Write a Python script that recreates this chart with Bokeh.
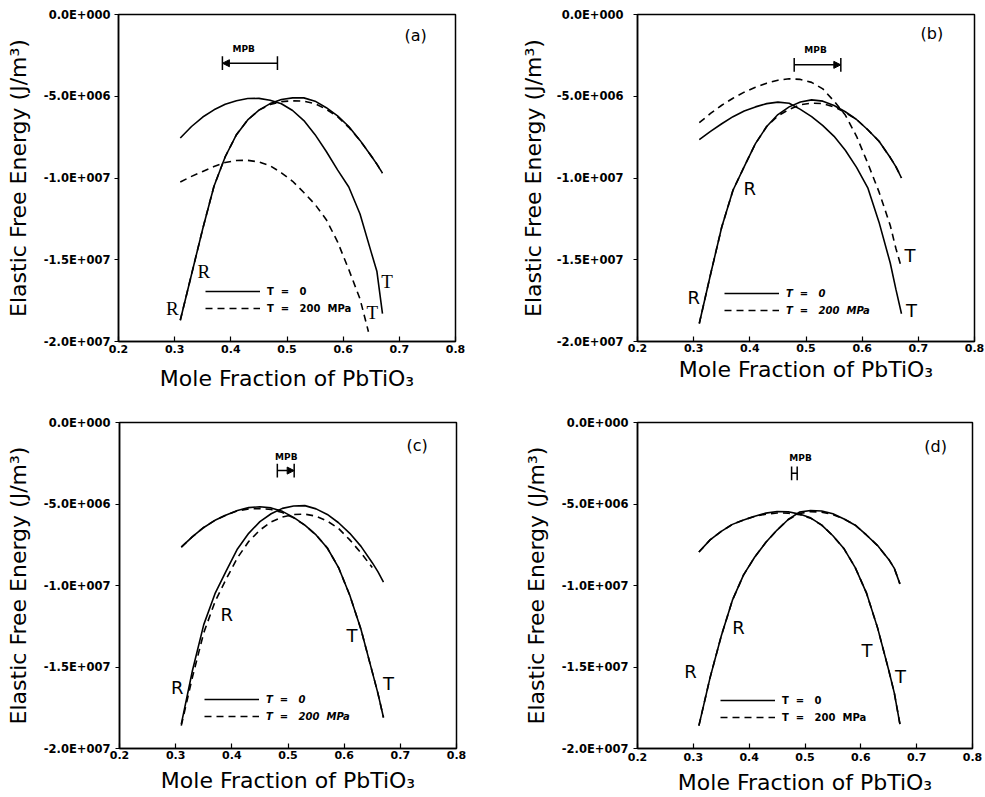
import numpy as np
from bokeh.plotting import figure
from bokeh.layouts import column, row
from bokeh.models import (Range1d, FixedTicker, CustomJSTickFormatter, Legend, LegendItem,
                          Arrow, NormalHead, ColumnDataSource, Label)
from bokeh.core.properties import value
from bokeh.embed import file_html
from bokeh.resources import INLINE

# ---------------- data (elastic free energy in units of 1e6 J/m^3) ----------------
x_grid = [0.31, 0.33, 0.35, 0.37, 0.39, 0.41, 0.43, 0.45, 0.47, 0.49,
          0.51, 0.53, 0.55, 0.57, 0.59, 0.61, 0.63, 0.65, 0.66, 0.67]

# panel (a)
a_T0_Tphase = [-7.55, -6.85, -6.27, -5.83, -5.49, -5.27, -5.14, -5.13, -5.24, -5.46,
               -5.87, -6.49, -7.35, -8.38, -9.5, -10.55, -12.2, -14.55, -15.7, -18.3]
a_T0_Rphase = [-18.7, -15.9, -13.1, -10.5, -8.7, -7.35, -6.45, -5.85, -5.45, -5.2,
               -5.1, -5.1, -5.3, -5.7, -6.2, -6.85, -7.7, -8.65, -9.15, -9.7]
a_T200_Rphase = [-18.7, -15.9, -13.1, -10.5, -8.7, -7.35, -6.45, -5.85, -5.5, -5.33,
                 -5.28, -5.3, -5.45, -5.8, -6.25, -6.9, -7.7, -8.65, -9.15, -9.7]
a_T200_Tphase_x = [0.31, 0.33, 0.35, 0.37, 0.39, 0.41, 0.43, 0.45, 0.47, 0.49,
                   0.51, 0.53, 0.55, 0.57, 0.59, 0.61, 0.63, 0.645]
a_T200_Tphase = [-10.25, -9.9, -9.6, -9.3, -9.05, -8.93, -8.92, -9.02, -9.25, -9.68,
                 -10.2, -10.89, -11.62, -12.55, -13.9, -15.6, -17.4, -19.4]

# panel (b)
b_T0_Tphase = [-7.65, -7.15, -6.68, -6.25, -5.9, -5.65, -5.45, -5.36, -5.43, -5.8,
               -6.25, -6.8, -7.45, -8.3, -9.35, -10.6, -12.7, -15.2, -16.8, -18.3]
b_T0_Rphase = [-18.9, -15.9, -13.0, -10.75, -9.3, -7.9, -6.85, -6.12, -5.65, -5.35,
               -5.22, -5.3, -5.57, -5.95, -6.42, -7.05, -7.75, -8.75, -9.3, -10.0]
b_T200_Rphase = [-18.9, -15.9, -13.0, -10.75, -9.3, -7.9, -6.85, -6.2, -5.8, -5.52,
                 -5.42, -5.45, -5.65, -6.0, -6.42, -7.05, -7.75, -8.75, -9.3, -10.0]
b_T200_Tphase = [-6.62, -6.05, -5.55, -5.12, -4.75, -4.45, -4.2, -4.02, -3.93, -3.97,
                 -4.15, -4.55, -5.3, -6.15, -7.45, -9.1, -10.85, -12.9, -14.3, -15.5]

# panel (c)
c_T0_Tphase = [-7.65, -7.0, -6.44, -6.0, -5.67, -5.4, -5.22, -5.17, -5.24, -5.45,
               -5.82, -6.3, -6.9, -7.7, -8.9, -10.6, -12.7, -15.3, -16.6, -18.1]
c_T200_Tphase = [-7.65, -7.0, -6.44, -6.0, -5.67, -5.42, -5.3, -5.28, -5.34, -5.52,
                 -5.85, -6.3, -6.9, -7.7, -8.9, -10.6, -12.7, -15.3, -16.6, -18.1]
c_T0_Rphase = [-18.5, -15.2, -12.4, -10.5, -9.1, -7.76, -6.8, -6.08, -5.6, -5.27,
               -5.12, -5.1, -5.3, -5.64, -6.15, -6.8, -7.6, -8.6, -9.15, -9.8]
c_T200_Rphase_x = [0.31, 0.33, 0.35, 0.37, 0.39, 0.41, 0.43, 0.45, 0.47, 0.49,
                   0.51, 0.53, 0.55, 0.57, 0.59, 0.61, 0.63, 0.65]
c_T200_Rphase = [-18.6, -15.6, -12.9, -11.0, -9.6, -8.3, -7.3, -6.6, -6.1, -5.8,
                 -5.65, -5.62, -5.75, -6.05, -6.5, -7.2, -8.0, -8.9]

# panel (d)
d_T0_Tphase = [-7.95, -7.2, -6.68, -6.25, -5.98, -5.75, -5.56, -5.46, -5.48, -5.62,
               -5.85, -6.3, -6.95, -7.75, -8.9, -10.45, -12.6, -15.2, -16.6, -18.5]
d_T200_Tphase = [-7.95, -7.2, -6.68, -6.25, -5.98, -5.75, -5.62, -5.55, -5.56, -5.65,
                 -5.87, -6.3, -6.95, -7.75, -8.9, -10.45, -12.6, -15.2, -16.6, -18.5]
d_T0_Rphase = [-18.6, -15.65, -13.1, -10.9, -9.35, -8.25, -7.35, -6.6, -5.95, -5.5,
               -5.4, -5.43, -5.6, -5.92, -6.3, -6.9, -7.55, -8.4, -8.95, -9.9]
d_T200_Rphase = [-18.6, -15.65, -13.1, -10.9, -9.35, -8.25, -7.35, -6.6, -5.95, -5.58,
                 -5.47, -5.5, -5.65, -5.92, -6.3, -6.9, -7.55, -8.4, -8.95, -9.9]

# MPB ranges (mole fraction)
mpb_lo = [0.385, 0.479, 0.481, 0.476]
mpb_hi = [0.483, 0.562, 0.511, 0.486]
mpb_head = ["lo", "hi", "hi", None]

# axis ticks
x_ticks = [0.2, 0.3, 0.4, 0.5, 0.6, 0.7, 0.8]
y_ticks = [-2e7, -1.5e7, -1e7, -5e6, 0]

legend_labels = ["T\u00a0\u00a0=\u00a0\u00a0\u00a00", "T\u00a0\u00a0=\u00a0\u00a0\u00a0200\u00a0\u00a0MPa"]

# ---------------- layout / annotation positions ----------------
panels = [
    dict(name="(a)", T0=(x_grid, a_T0_Tphase, x_grid, a_T0_Rphase),
         T200=(a_T200_Tphase_x, a_T200_Tphase, x_grid, a_T200_Rphase),
         w=492, h=396, bl=118, br=37, bt=12, bb=51, ystand=4, ylab=10, xstand=3, xlab=10,
         lbl_font="Liberation Serif", lbl_size="19px",
         lbl=([0.352, 0.296, 0.678, 0.652], [-15.7, -18.0, -16.3, -18.2], ["R", "R", "T", "T"]),
         letter=(0.729, -1.27), mpb_y=-2.98, mpb_txt=(0.423, -2.08), leg=(87, 27), leg_style="bold"),
    dict(name="(b)", T0=(x_grid, b_T0_Tphase, x_grid, b_T0_Rphase),
         T200=(x_grid, b_T200_Tphase, x_grid, b_T200_Rphase),
         w=493, h=396, bl=145, br=11, bt=14, bb=55, ystand=10, ylab=8, xstand=2, xlab=2,
         lbl_font="DejaVu Sans", lbl_size="18px",
         lbl=([0.40, 0.30, 0.685, 0.688], [-10.66, -17.3, -14.74, -18.1], ["R", "R", "T", "T"]),
         letter=(0.724, -1.18), mpb_y=-3.08, mpb_txt=(0.517, -2.2), leg=(87, 25), leg_style="bold italic"),
    dict(name="(c)", T0=(x_grid, c_T0_Tphase, x_grid, c_T0_Rphase),
         T200=(x_grid, c_T200_Tphase, c_T200_Rphase_x, c_T200_Rphase),
         w=492, h=401, bl=119, br=36, bt=26, bb=45, ystand=5, ylab=10, xstand=2, xlab=6,
         lbl_font="DejaVu Sans", lbl_size="18px",
         lbl=([0.391, 0.303, 0.614, 0.679], [-11.8, -16.24, -13.05, -16.04], ["R", "R", "T", "T"]),
         letter=(0.73, -1.39), mpb_y=-2.95, mpb_txt=(0.497, -2.12), leg=(85, 26), leg_style="bold italic"),
    dict(name="(d)", T0=(x_grid, d_T0_Tphase, x_grid, d_T0_Rphase),
         T200=(x_grid, d_T200_Tphase, x_grid, d_T200_Rphase),
         w=493, h=401, bl=145, br=13, bt=23, bb=47, ystand=5, ylab=10, xstand=4, xlab=6,
         lbl_font="DejaVu Sans", lbl_size="18px",
         lbl=([0.381, 0.295, 0.611, 0.671], [-12.55, -15.27, -13.96, -15.57], ["R", "R", "T", "T"]),
         letter=(0.734, -1.47), mpb_y=-3.12, mpb_txt=(0.492, -2.17), leg=(83, 25), leg_style="bold"),
]

SCALE = 1e6
y_fmt = CustomJSTickFormatter(code="""
var s = tick.toExponential(1);
var parts = s.split("e");
var e = parseInt(parts[1]);
var ae = String(Math.abs(e));
while (ae.length < 3) { ae = "0" + ae; }
return parts[0] + "E" + (e < 0 ? "-" : "+") + ae;
""")
x_fmt = CustomJSTickFormatter(code="return tick.toFixed(1);")


def make_panel(i, cfg):
    p = figure(width=cfg["w"], height=cfg["h"], x_range=Range1d(0.2, 0.8), y_range=Range1d(-2e7, 0),
               output_backend="svg", toolbar_location=None,
               min_border_left=cfg["bl"], min_border_right=cfg["br"],
               min_border_top=cfg["bt"], min_border_bottom=cfg["bb"])
    p.xgrid.visible = False
    p.ygrid.visible = False
    p.outline_line_color = "black"
    p.outline_line_width = 1.5
    p.outline_line_alpha = 1.0
    p.background_fill_color = "white"
    p.border_fill_color = "white"

    # axes
    p.xaxis.ticker = FixedTicker(ticks=x_ticks)
    p.yaxis.ticker = FixedTicker(ticks=y_ticks)
    p.xaxis.formatter = x_fmt
    p.yaxis.formatter = y_fmt
    p.xaxis.minor_tick_line_color = None
    p.yaxis.minor_tick_line_color = None
    for ax in (p.xaxis, p.yaxis):
        ax.axis_line_color = "black"
        ax.axis_line_width = 1.5
        ax.major_tick_line_color = "black"
        ax.major_tick_line_width = 1.2
        ax.major_label_text_font = "DejaVu Sans"
        ax.major_label_text_font_style = "bold"
        ax.major_label_text_color = "black"
        ax.axis_label_text_font = "DejaVu Sans"
        ax.axis_label_text_font_style = "normal"
        ax.axis_label_text_font_size = "22px"
        ax.axis_label_text_color = "black"
    p.xaxis.major_tick_in = 5
    p.xaxis.major_tick_out = 0
    p.yaxis.major_tick_in = 0
    p.yaxis.major_tick_out = 4
    p.xaxis.major_label_text_font_size = "11px"
    p.yaxis.major_label_text_font_size = "11.5px"
    p.xaxis.major_label_standoff = cfg["xstand"]
    p.yaxis.major_label_standoff = cfg["ystand"]
    p.xaxis.axis_label_standoff = cfg["xlab"]
    p.yaxis.axis_label_standoff = cfg["ylab"]
    p.xaxis.axis_label = "Mole Fraction of PbTiO\u2083"
    p.yaxis.axis_label = "Elastic Free Energy (J/m\u00b3)"

    # curves
    xT, yT, xR, yR = cfg["T0"]
    s1 = p.line(xT, np.array(yT) * SCALE, line_color="black", line_width=1.6)
    p.line(xR, np.array(yR) * SCALE, line_color="black", line_width=1.6)
    xT2, yT2, xR2, yR2 = cfg["T200"]
    d1 = p.line(xT2, np.array(yT2) * SCALE, line_color="black", line_width=1.6, line_dash="7 5")
    p.line(xR2, np.array(yR2) * SCALE, line_color="black", line_width=1.6, line_dash="7 5")

    # phase labels
    lx, ly, lt = cfg["lbl"]
    src = ColumnDataSource(dict(x=lx, y=np.array(ly) * SCALE, t=lt))
    p.text(x="x", y="y", text="t", source=src, text_align="center", text_baseline="middle",
           text_font=value(cfg["lbl_font"]), text_font_size=cfg["lbl_size"], text_color="black")

    # panel letter
    p.add_layout(Label(x=cfg["letter"][0], y=cfg["letter"][1] * SCALE, text=cfg["name"],
                       text_align="center", text_baseline="middle", text_font="DejaVu Sans",
                       text_font_size="16px", text_color="black"))

    # MPB marker
    lo, hi, head = mpb_lo[i], mpb_hi[i], mpb_head[i]
    my = cfg["mpb_y"] * SCALE
    bh = 0.42 * SCALE
    p.segment(x0=[lo, hi], y0=[my - bh, my - bh], x1=[lo, hi], y1=[my + bh, my + bh],
              line_color="black", line_width=1.5)
    if head == "lo":
        p.add_layout(Arrow(x_start=hi, y_start=my, x_end=lo, y_end=my, line_width=1.5,
                           end=NormalHead(size=7, fill_color="black", line_color="black")))
    elif head == "hi":
        p.add_layout(Arrow(x_start=lo, y_start=my, x_end=hi, y_end=my, line_width=1.5,
                           end=NormalHead(size=7, fill_color="black", line_color="black")))
    else:
        p.segment(x0=[lo], y0=[my], x1=[hi], y1=[my], line_color="black", line_width=1.5)
    p.add_layout(Label(x=cfg["mpb_txt"][0], y=cfg["mpb_txt"][1] * SCALE, text="MPB",
                       text_align="center", text_baseline="middle", text_font="DejaVu Sans",
                       text_font_style="bold", text_font_size="9px", text_color="black"))

    # legend
    leg = Legend(items=[LegendItem(label=legend_labels[0], renderers=[s1]),
                        LegendItem(label=legend_labels[1], renderers=[d1])],
                 location=cfg["leg"], orientation="vertical",
                 glyph_width=55, glyph_height=12, label_height=12, label_standoff=7,
                 spacing=5, padding=0, margin=0,
                 border_line_alpha=0, background_fill_alpha=0,
                 label_text_font="DejaVu Sans", label_text_font_size="10px",
                 label_text_font_style=cfg["leg_style"], label_text_color="black")
    p.add_layout(leg)
    return p


figs = [make_panel(i, c) for i, c in enumerate(panels)]
layout = column(row(figs[0], figs[1]), row(figs[2], figs[3]))

open("out.html", "w").write(file_html(layout, INLINE))
